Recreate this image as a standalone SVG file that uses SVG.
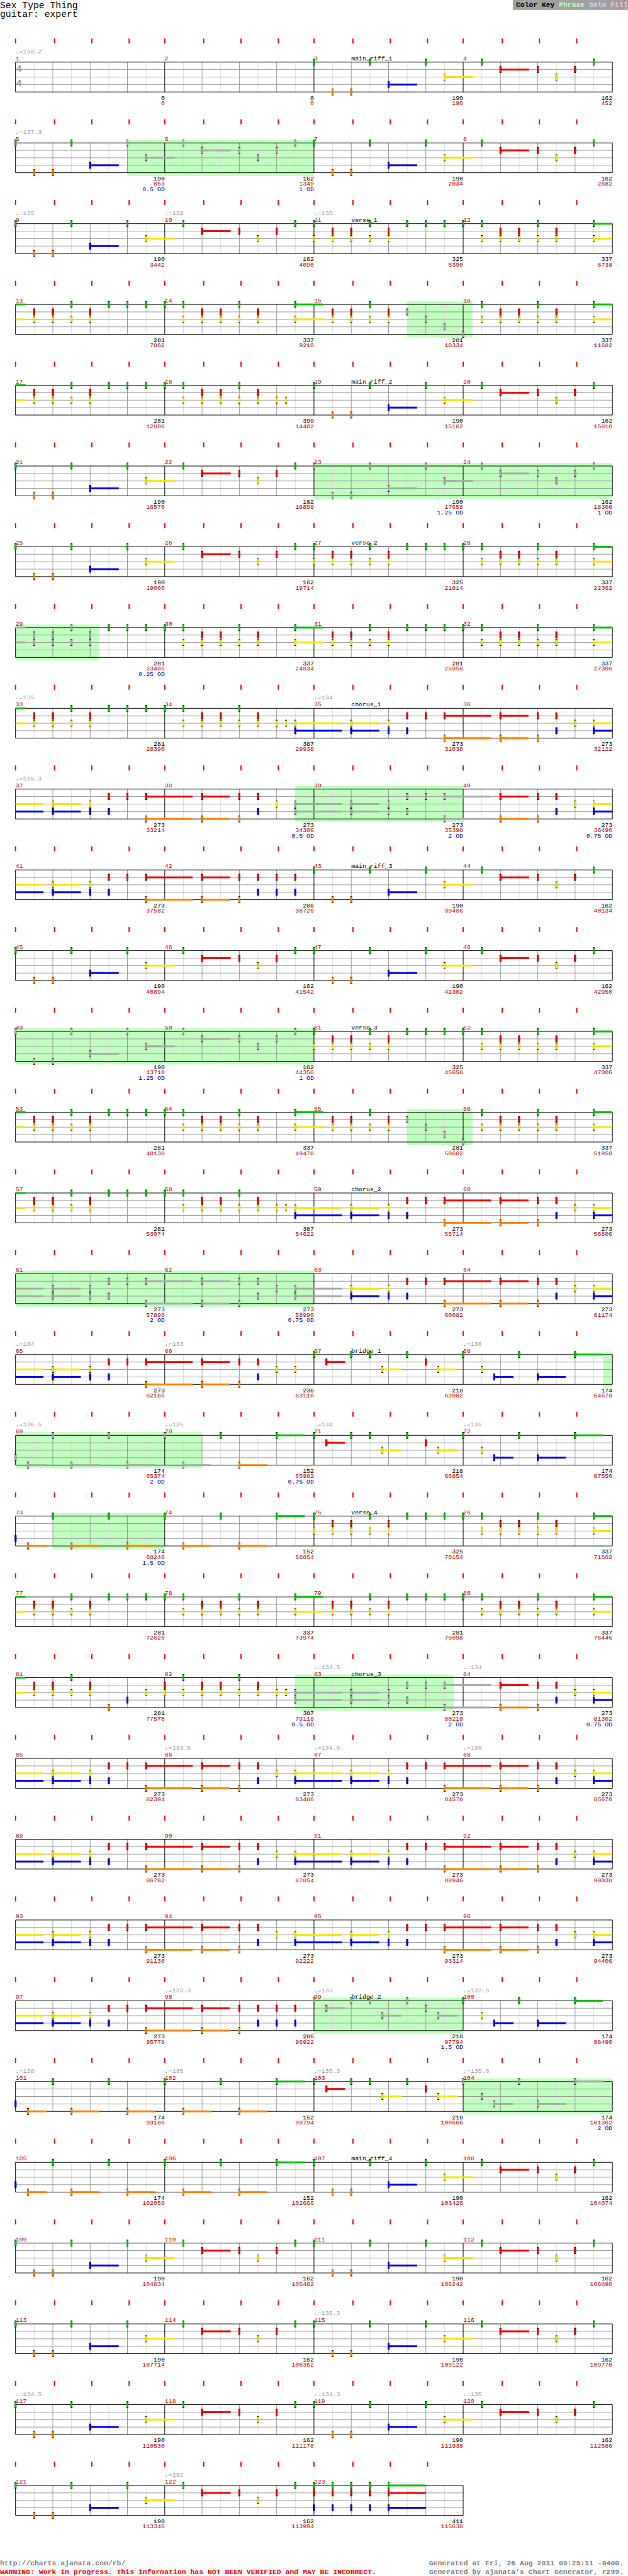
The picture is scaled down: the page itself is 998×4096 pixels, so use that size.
<svg xmlns="http://www.w3.org/2000/svg" width="998" height="4096" viewBox="0 0 998 4096">
<style>
text{font-family:"Liberation Mono","DejaVu Sans Mono",monospace;font-size:10px}
.mn{fill:#c00000}.k{text-anchor:end}.c{fill:#c00000;text-anchor:end}.od{fill:#0000c0;text-anchor:end}.tp{fill:#999}
.ts{font-family:"DejaVu Sans Mono",monospace;font-size:15px;font-weight:bold;fill:#999}
.ttl{font-size:14.9px}
.ft{font-size:11.6px;font-weight:bold}
.G{fill:var(--G,#00c000)}.R{fill:var(--R,#f00000)}.Y{fill:var(--Y,#f8e400)}.B{fill:var(--B,#0000f0)}.O{fill:var(--O,#ff8000)}
.sp{--G:#a8a8a8;--R:#a8a8a8;--Y:#a8a8a8;--B:#a8a8a8;--O:#a8a8a8}
.hl{fill:#c0ffc0}
</style>
<defs>
<g id="staff">
<path d="M55 0V48M115 0V48M175 0V48M235 0V48M295 0V48M355 0V48M415 0V48M475 0V48M535 0V48M595 0V48M655 0V48M715 0V48M775 0V48M835 0V48M895 0V48M955 0V48" stroke="#dcdcdc"/>
<path d="M85 0V48M145 0V48M205 0V48M325 0V48M385 0V48M445 0V48M565 0V48M625 0V48M685 0V48M805 0V48M865 0V48M925 0V48M25 12H985M25 24H985M25 36H985" stroke="#999"/>
<path d="M25 0H985V48H25ZM265 0V48M505 0V48M745 0V48" stroke="#000" fill="none"/>
</g>
<g id="staff3">
<path d="M55 0V48M115 0V48M175 0V48M235 0V48M295 0V48M355 0V48M415 0V48M475 0V48M535 0V48M595 0V48M655 0V48M715 0V48" stroke="#dcdcdc"/>
<path d="M85 0V48M145 0V48M205 0V48M325 0V48M385 0V48M445 0V48M565 0V48M625 0V48M685 0V48M25 12H745M25 24H745M25 36H745" stroke="#999"/>
<path d="M25 0H745V48H25ZM265 0V48M505 0V48" stroke="#000" fill="none"/>
</g>
<g id="tk3" fill="#f00"><rect x="24" y="-38" width="2" height="8"/><rect x="86.7" y="-38" width="2" height="8"/><rect x="146.7" y="-38" width="2" height="8"/><rect x="206.7" y="-38" width="2" height="8"/><rect x="264" y="-38" width="2" height="8"/><rect x="326.7" y="-38" width="2" height="8"/><rect x="386.7" y="-38" width="2" height="8"/><rect x="446.7" y="-38" width="2" height="8"/><rect x="504" y="-38" width="2" height="8"/><rect x="566.7" y="-38" width="2" height="8"/><rect x="626.7" y="-38" width="2" height="8"/><rect x="686.7" y="-38" width="2" height="8"/></g>
<g id="tk" fill="#f00"><use href="#tk3"/><rect x="744" y="-38" width="2" height="8"/><rect x="806.7" y="-38" width="2" height="8"/><rect x="866.7" y="-38" width="2" height="8"/><rect x="926.7" y="-38" width="2" height="8"/></g>
<g id="nG"><rect x="-1.5" y="-5.5" width="3" height="11"/><rect class="G" x="-1.5" y="-4.5" width="3" height="9"/></g>
<g id="nR"><rect x="-1.5" y="6.5" width="3" height="11"/><rect class="R" x="-1.5" y="7.5" width="3" height="9"/></g>
<g id="nY"><rect x="-1.5" y="18.5" width="3" height="11"/><rect class="Y" x="-1.5" y="19.5" width="3" height="9"/></g>
<g id="nB"><rect x="-1.5" y="30.5" width="3" height="11"/><rect class="B" x="-1.5" y="31.5" width="3" height="9"/></g>
<g id="nO"><rect x="-1.5" y="42.5" width="3" height="11"/><rect class="O" x="-1.5" y="43.5" width="3" height="9"/></g>
<g id="RY"><use href="#nR"/><use href="#nY"/></g>
<g id="GY"><use href="#nG"/><use href="#nY"/></g>
<g id="YB"><use href="#nY"/><use href="#nB"/></g>
<g id="RB"><use href="#nR"/><use href="#nB"/></g>
<g id="RO"><use href="#nR"/><use href="#nO"/></g>
<g id="GRB"><use href="#nG"/><use href="#nR"/><use href="#nB"/></g>
<g id="GYm"><rect class="G" y="-1.5" width="45" height="3"/><rect class="Y" y="22.5" width="45" height="3"/><use href="#GY"/></g>
<g id="GYe"><rect class="G" y="-1.5" width="30" height="3"/><rect class="Y" y="22.5" width="30" height="3"/><use href="#GY"/></g>
<g id="cGY"><rect class="G" y="-1.5" width="16" height="3"/><rect class="Y" y="22.5" width="16" height="3"/></g>
<g id="YBm"><rect class="Y" y="22.5" width="75" height="3"/><rect class="B" y="34.5" width="75" height="3"/><use href="#YB"/></g>
<g id="YBe"><rect class="Y" y="22.5" width="30" height="3"/><rect class="B" y="34.5" width="30" height="3"/><use href="#YB"/></g>
<g id="cYB"><rect class="Y" y="22.5" width="45" height="3"/><rect class="B" y="34.5" width="45" height="3"/></g>
<g id="MAa"><rect class="B" x="120" y="34.5" width="46" height="3"/><use href="#nG"/><use href="#nO" x="30"/><use href="#nO" x="60"/><use href="#nG" x="90"/><use href="#nB" x="120"/></g>
<g id="MAb"><rect class="Y" x="210" y="22.5" width="46" height="3"/><use href="#nG" x="180"/><use href="#nY" x="210"/></g>
<g id="MA"><use href="#MAa"/><use href="#MAb"/></g>
<g id="MB"><rect class="R" x="60" y="10.5" width="46" height="3"/><use href="#nG" x="30"/><use href="#nR" x="60"/><use href="#nR" x="120"/><use href="#nY" x="150"/><use href="#nR" x="180"/><use href="#nG" x="210"/></g>
<g id="VAh"><use href="#RY" x="30"/><use href="#RY" x="60"/><use href="#GY" x="90"/><use href="#RY" x="120"/></g>
<g id="VA"><use href="#VAh"/><use href="#nG" x="150"/><use href="#nG" x="180"/><use href="#nG" x="210"/></g>
<g id="VBh"><use href="#GY" x="30"/><use href="#RY" x="60"/><use href="#RY" x="90"/><use href="#GY" x="120"/><use href="#RY" x="150"/></g>
<g id="VBm"><use href="#nG"/><use href="#VBh"/><use href="#GYm" x="210"/></g>
<g id="VBe"><use href="#nG"/><use href="#VBh"/><use href="#GYe" x="210"/></g>
<g id="VBp"><use href="#nG"/><use href="#VBh"/><use href="#nY" x="180"/><use href="#nY" x="195"/></g>
<g id="CA"><rect class="Y" x="60" y="22.5" width="45" height="3"/><rect class="B" x="60" y="34.5" width="45" height="3"/><rect class="R" x="210" y="10.5" width="75" height="3"/><rect class="O" x="210" y="46.5" width="75" height="3"/><use href="#YB" x="60"/><use href="#YB" x="120"/><use href="#RB" x="150"/><use href="#nR" x="180"/><use href="#RO" x="210"/></g>
<g id="CBc"><rect class="R" x="60" y="10.5" width="45" height="3"/><rect class="O" x="60" y="46.5" width="45" height="3"/><use href="#RO" x="60"/><use href="#RO" x="120"/><use href="#RB" x="150"/></g>
<g id="CBh"><use href="#CBc"/><use href="#nY" x="180"/></g>
<g id="BA"><rect class="R" x="20" y="10.5" width="30" height="3"/><rect class="Y" x="110" y="22.5" width="31" height="3"/><rect class="Y" x="200" y="22.5" width="31" height="3"/><use href="#nG"/><use href="#nR" x="20"/><use href="#nG" x="60"/><use href="#nG" x="90"/><use href="#nY" x="110"/><use href="#nG" x="150"/><use href="#nR" x="180"/><use href="#nY" x="200"/></g>
<g id="BB"><rect class="B" x="50" y="34.5" width="31" height="3"/><rect class="B" x="120" y="34.5" width="45" height="3"/><rect class="G" x="180" y="-1.5" width="45" height="3"/><use href="#nG"/><use href="#nY" x="30"/><use href="#nB" x="50"/><use href="#nG" x="90"/><use href="#nB" x="120"/><use href="#nG" x="180"/></g>
<g id="BC"><rect class="O" x="20" y="46.5" width="30" height="3"/><rect class="O" x="90" y="46.5" width="45" height="3"/><rect class="O" x="180" y="46.5" width="45" height="3"/><use href="#nB"/><use href="#nO" x="20"/><use href="#nG" x="60"/><use href="#nO" x="90"/><use href="#nG" x="150"/><use href="#nO" x="180"/></g>
<g id="BDa"><rect class="O" x="30" y="46.5" width="45" height="3"/><use href="#nG"/><use href="#nO" x="30"/></g>
<g id="BDb"><rect class="O" x="120" y="46.5" width="45" height="3"/><rect class="G" x="180" y="-1.5" width="45" height="3"/><use href="#nG" x="90"/><use href="#nO" x="120"/><use href="#nG" x="180"/></g>
<g id="BD"><use href="#BDa"/><use href="#BDb"/></g>
<g id="END"><rect class="G" x="120" y="-1.5" width="60" height="3"/><rect class="R" x="120" y="10.5" width="60" height="3"/><rect class="B" x="120" y="34.5" width="60" height="3"/><use href="#GRB"/><use href="#GRB" x="30"/><use href="#GRB" x="60"/><use href="#GRB" x="90"/><use href="#GRB" x="120"/></g>
</defs>
<g transform="scale(0.988)">
<rect width="1010" height="4145" fill="#fff"/>
<g id="header">
<text class="ttl" x="0" y="13">Sex Type Thing</text>
<text class="ttl" x="0" y="27">guitar: expert</text>
<rect x="825" y="0" width="185" height="16" fill="#a0a0a0"/>
<text x="830" y="11" style="font-size:11.5px;font-weight:bold">Color Key <tspan fill="#c0ffc0">Phrase</tspan> <tspan fill="#d4d4ff">Solo</tspan> <tspan fill="#ffc4c4">Fill</tspan></text>
</g>
<g id="row1" transform="translate(0,100)">
<use href="#staff"/><use href="#tk"/>
<text class="ts" x="26" y="15">4</text><text class="ts" x="26" y="39">4</text>
<text class="tp" x="25" y="-14">♩=138.2</text>
<text class="mn" y="-3"><tspan x="25">1</tspan><tspan x="265">2</tspan><tspan x="505">3</tspan><tspan x="745">4</tspan></text>
<text x="565" y="-3">main_riff_1</text>
<use href="#MA" x="505"/><use href="#MB" x="745"/>
<text class="k" y="60.5"><tspan x="265">0</tspan><tspan x="505">0</tspan><tspan x="745">190</tspan><tspan x="985">162</tspan></text>
<text class="c" y="69"><tspan x="265">0</tspan><tspan x="505">0</tspan><tspan x="745">190</tspan><tspan x="985">452</tspan></text>
</g>
<g id="row2" transform="translate(0,230)">
<rect class="hl" x="205" y="-5" width="300" height="58"/>
<use href="#staff"/><use href="#tk"/>
<text class="tp" x="25" y="-14">♩=137.3</text>
<text class="mn" y="-3"><tspan x="25">5</tspan><tspan x="265">6</tspan><tspan x="505">7</tspan><tspan x="745">8</tspan></text>
<use href="#MAa" x="25"/><use class="sp" href="#MAb" x="25"/><use class="sp" href="#MB" x="265"/><use href="#MA" x="505"/><use href="#MB" x="745"/>
<text class="k" y="60.5"><tspan x="265">190</tspan><tspan x="505">162</tspan><tspan x="745">190</tspan><tspan x="985">162</tspan></text>
<text class="c" y="69"><tspan x="265">863</tspan><tspan x="505">1349</tspan><tspan x="745">2034</tspan><tspan x="985">2682</tspan></text>
<text class="od" y="78"><tspan x="265">0.5 OD</tspan><tspan x="505">1 OD</tspan></text>
</g>
<g id="row3" transform="translate(0,360)">
<use href="#staff"/><use href="#tk"/>
<text class="tp" y="-14"><tspan x="25">♩=135</tspan><tspan x="265">♩=132</tspan><tspan x="505">♩=135</tspan></text>
<text class="mn" y="-3"><tspan x="25">9</tspan><tspan x="265">10</tspan><tspan x="505">11</tspan><tspan x="745">12</tspan></text>
<text x="565" y="-3">verse_1</text>
<use href="#MA" x="25"/><use href="#MB" x="265"/><use href="#GY" x="505"/><use href="#VA" x="505"/><use href="#VBe" x="745"/>
<text class="k" y="60.5"><tspan x="265">190</tspan><tspan x="505">162</tspan><tspan x="745">325</tspan><tspan x="985">337</tspan></text>
<text class="c" y="69"><tspan x="265">3442</tspan><tspan x="505">4090</tspan><tspan x="745">5390</tspan><tspan x="985">6738</tspan></text>
</g>
<g id="row4" transform="translate(0,490)">
<rect class="hl" x="655" y="-5" width="105" height="58"/>
<use href="#staff"/><use href="#tk"/>
<text class="mn" y="-3"><tspan x="25">13</tspan><tspan x="265">14</tspan><tspan x="505">15</tspan><tspan x="745">16</tspan></text>
<use href="#cGY" x="25"/><use href="#VA" x="25"/><use href="#VBm" x="265"/><use href="#VAh" x="505"/>
<g class="sp"><use href="#nR" x="655"/><use href="#nY" x="685"/><use href="#nB" x="715"/><use href="#nO" x="745"/></g>
<use href="#VBh" x="745"/><use href="#GYe" x="955"/>
<text class="k" y="60.5"><tspan x="265">281</tspan><tspan x="505">337</tspan><tspan x="745">281</tspan><tspan x="985">337</tspan></text>
<text class="c" y="69"><tspan x="265">7862</tspan><tspan x="505">9210</tspan><tspan x="745">10334</tspan><tspan x="985">11682</tspan></text>
</g>
<g id="row5" transform="translate(0,620)">
<use href="#staff"/><use href="#tk"/>
<text class="mn" y="-3"><tspan x="25">17</tspan><tspan x="265">18</tspan><tspan x="505">19</tspan><tspan x="745">20</tspan></text>
<text x="565" y="-3">main_riff_2</text>
<use href="#cGY" x="25"/><use href="#VA" x="25"/><use href="#VBp" x="265"/><use href="#MA" x="505"/><use href="#MB" x="745"/>
<text class="k" y="60.5"><tspan x="265">281</tspan><tspan x="505">399</tspan><tspan x="745">190</tspan><tspan x="985">162</tspan></text>
<text class="c" y="69"><tspan x="265">12806</tspan><tspan x="505">14402</tspan><tspan x="745">15162</tspan><tspan x="985">15810</tspan></text>
</g>
<g id="row6" transform="translate(0,750)">
<rect class="hl" x="505" y="-5" width="480" height="58"/>
<use href="#staff"/><use href="#tk"/>
<text class="mn" y="-3"><tspan x="25">21</tspan><tspan x="265">22</tspan><tspan x="505">23</tspan><tspan x="745">24</tspan></text>
<use href="#MA" x="25"/><use href="#MB" x="265"/><use class="sp" href="#MA" x="505"/><use class="sp" href="#MB" x="745"/>
<text class="k" y="60.5"><tspan x="265">190</tspan><tspan x="505">162</tspan><tspan x="745">190</tspan><tspan x="985">162</tspan></text>
<text class="c" y="69"><tspan x="265">16570</tspan><tspan x="505">16898</tspan><tspan x="745">17658</tspan><tspan x="985">18306</tspan></text>
<text class="od" y="78"><tspan x="745">1.25 OD</tspan><tspan x="985">1 OD</tspan></text>
</g>
<g id="row7" transform="translate(0,880)">
<use href="#staff"/><use href="#tk"/>
<text class="mn" y="-3"><tspan x="25">25</tspan><tspan x="265">26</tspan><tspan x="505">27</tspan><tspan x="745">28</tspan></text>
<text x="565" y="-3">verse_2</text>
<use href="#MA" x="25"/><use href="#MB" x="265"/><use href="#GY" x="505"/><use href="#VA" x="505"/><use href="#VBe" x="745"/>
<text class="k" y="60.5"><tspan x="265">190</tspan><tspan x="505">162</tspan><tspan x="745">325</tspan><tspan x="985">337</tspan></text>
<text class="c" y="69"><tspan x="265">19066</tspan><tspan x="505">19714</tspan><tspan x="745">21014</tspan><tspan x="985">22362</tspan></text>
</g>
<g id="row8" transform="translate(0,1010)">
<rect class="hl" x="25" y="-5" width="135" height="58"/>
<use href="#staff"/><use href="#tk"/>
<text class="mn" y="-3"><tspan x="25">29</tspan><tspan x="265">30</tspan><tspan x="505">31</tspan><tspan x="745">32</tspan></text>
<use class="sp" href="#cGY" x="25"/><use class="sp" href="#VAh" x="25"/><use href="#nG" x="175"/><use href="#nG" x="205"/><use href="#nG" x="235"/><use href="#VBm" x="265"/><use href="#VA" x="505"/><use href="#VBe" x="745"/>
<text class="k" y="60.5"><tspan x="265">281</tspan><tspan x="505">337</tspan><tspan x="745">281</tspan><tspan x="985">337</tspan></text>
<text class="c" y="69"><tspan x="265">23486</tspan><tspan x="505">24834</tspan><tspan x="745">25958</tspan><tspan x="985">27306</tspan></text>
<text class="od" x="265" y="78">0.25 OD</text>
</g>
<g id="row9" transform="translate(0,1140)">
<use href="#staff"/><use href="#tk"/>
<text class="tp" y="-14"><tspan x="25">♩=135</tspan><tspan x="505">♩=134</tspan></text>
<text class="mn" y="-3"><tspan x="25">33</tspan><tspan x="265">34</tspan><tspan x="505">35</tspan><tspan x="745">36</tspan></text>
<text x="565" y="-3">chorus_1</text>
<use href="#cGY" x="25"/><use href="#VA" x="25"/><use href="#VBp" x="265"/><use href="#YBm" x="475"/><use href="#CA" x="505"/><use href="#CBh" x="745"/><use href="#YBe" x="955"/>
<text class="k" y="60.5"><tspan x="265">281</tspan><tspan x="505">387</tspan><tspan x="745">273</tspan><tspan x="985">273</tspan></text>
<text class="c" y="69"><tspan x="265">28390</tspan><tspan x="505">29938</tspan><tspan x="745">31030</tspan><tspan x="985">32122</tspan></text>
</g>
<g id="row10" transform="translate(0,1270)">
<rect class="hl" x="475" y="-5" width="270" height="58"/>
<use href="#staff"/><use href="#tk"/>
<text class="tp" x="25" y="-14">♩=135.3</text>
<text class="mn" y="-3"><tspan x="25">37</tspan><tspan x="265">38</tspan><tspan x="505">39</tspan><tspan x="745">40</tspan></text>
<use href="#cYB" x="25"/><use href="#CA" x="25"/><use href="#CBh" x="265"/><use class="sp" href="#YBm" x="475"/><use class="sp" href="#CA" x="505"/><use href="#CBh" x="745"/><use href="#YBe" x="955"/>
<text class="k" y="60.5"><tspan x="265">273</tspan><tspan x="505">273</tspan><tspan x="745">273</tspan><tspan x="985">273</tspan></text>
<text class="c" y="69"><tspan x="265">33214</tspan><tspan x="505">34306</tspan><tspan x="745">35398</tspan><tspan x="985">36490</tspan></text>
<text class="od" y="78"><tspan x="505">0.5 OD</tspan><tspan x="745">2 OD</tspan><tspan x="985">0.75 OD</tspan></text>
</g>
<g id="row11" transform="translate(0,1400)">
<use href="#staff"/><use href="#tk"/>
<text class="mn" y="-3"><tspan x="25">41</tspan><tspan x="265">42</tspan><tspan x="505">43</tspan><tspan x="745">44</tspan></text>
<text x="565" y="-3">main_riff_3</text>
<use href="#cYB" x="25"/><use href="#CA" x="25"/><use href="#CBc" x="265"/><use href="#RB" x="445"/><use href="#RB" x="475"/><use href="#MA" x="505"/><use href="#MB" x="745"/>
<text class="k" y="60.5"><tspan x="265">273</tspan><tspan x="505">286</tspan><tspan x="745">190</tspan><tspan x="985">162</tspan></text>
<text class="c" y="69"><tspan x="265">37582</tspan><tspan x="505">38726</tspan><tspan x="745">39486</tspan><tspan x="985">40134</tspan></text>
</g>
<g id="row12" transform="translate(0,1530)">
<use href="#staff"/><use href="#tk"/>
<text class="mn" y="-3"><tspan x="25">45</tspan><tspan x="265">46</tspan><tspan x="505">47</tspan><tspan x="745">48</tspan></text>
<use href="#MA" x="25"/><use href="#MB" x="265"/><use href="#MA" x="505"/><use href="#MB" x="745"/>
<text class="k" y="60.5"><tspan x="265">190</tspan><tspan x="505">162</tspan><tspan x="745">190</tspan><tspan x="985">162</tspan></text>
<text class="c" y="69"><tspan x="265">40894</tspan><tspan x="505">41542</tspan><tspan x="745">42302</tspan><tspan x="985">42950</tspan></text>
</g>
<g id="row13" transform="translate(0,1660)">
<rect class="hl" x="25" y="-5" width="480" height="58"/>
<use href="#staff"/><use href="#tk"/>
<text class="mn" y="-3"><tspan x="25">49</tspan><tspan x="265">50</tspan><tspan x="505">51</tspan><tspan x="745">52</tspan></text>
<text x="565" y="-3">verse_3</text>
<use class="sp" href="#MA" x="25"/><use class="sp" href="#MB" x="265"/><use href="#GY" x="505"/><use href="#VA" x="505"/><use href="#VBe" x="745"/>
<text class="k" y="60.5"><tspan x="265">190</tspan><tspan x="505">162</tspan><tspan x="745">325</tspan><tspan x="985">337</tspan></text>
<text class="c" y="69"><tspan x="265">43710</tspan><tspan x="505">44358</tspan><tspan x="745">45658</tspan><tspan x="985">47006</tspan></text>
<text class="od" y="78"><tspan x="265">1.25 OD</tspan><tspan x="505">1 OD</tspan></text>
</g>
<g id="row14" transform="translate(0,1790)">
<rect class="hl" x="655" y="-5" width="105" height="58"/>
<use href="#staff"/><use href="#tk"/>
<text class="mn" y="-3"><tspan x="25">53</tspan><tspan x="265">54</tspan><tspan x="505">55</tspan><tspan x="745">56</tspan></text>
<use href="#cGY" x="25"/><use href="#VA" x="25"/><use href="#VBm" x="265"/><use href="#VAh" x="505"/>
<g class="sp"><use href="#nR" x="655"/><use href="#nY" x="685"/><use href="#nB" x="715"/><use href="#nO" x="745"/></g>
<use href="#VBh" x="745"/><use href="#GYe" x="955"/>
<text class="k" y="60.5"><tspan x="265">281</tspan><tspan x="505">337</tspan><tspan x="745">281</tspan><tspan x="985">337</tspan></text>
<text class="c" y="69"><tspan x="265">48130</tspan><tspan x="505">49478</tspan><tspan x="745">50602</tspan><tspan x="985">51950</tspan></text>
</g>
<g id="row15" transform="translate(0,1920)">
<use href="#staff"/><use href="#tk"/>
<text class="mn" y="-3"><tspan x="25">57</tspan><tspan x="265">58</tspan><tspan x="505">59</tspan><tspan x="745">60</tspan></text>
<text x="565" y="-3">chorus_2</text>
<use href="#cGY" x="25"/><use href="#VA" x="25"/><use href="#VBp" x="265"/><use href="#YBm" x="475"/><use href="#CA" x="505"/><use href="#CBh" x="745"/><use href="#YBe" x="955"/>
<text class="k" y="60.5"><tspan x="265">281</tspan><tspan x="505">387</tspan><tspan x="745">273</tspan><tspan x="985">273</tspan></text>
<text class="c" y="69"><tspan x="265">53074</tspan><tspan x="505">54622</tspan><tspan x="745">55714</tspan><tspan x="985">56806</tspan></text>
</g>
<g id="row16" transform="translate(0,2050)">
<rect class="hl" x="25" y="-5" width="480" height="58"/>
<use href="#staff"/><use href="#tk"/>
<text class="mn" y="-3"><tspan x="25">61</tspan><tspan x="265">62</tspan><tspan x="505">63</tspan><tspan x="745">64</tspan></text>
<use class="sp" href="#cYB" x="25"/><use class="sp" href="#CA" x="25"/><use class="sp" href="#CBh" x="265"/><use class="sp" href="#YBm" x="475"/><use href="#CA" x="505"/><use href="#CBh" x="745"/><use href="#YBe" x="955"/>
<text class="k" y="60.5"><tspan x="265">273</tspan><tspan x="505">273</tspan><tspan x="745">273</tspan><tspan x="985">273</tspan></text>
<text class="c" y="69"><tspan x="265">57898</tspan><tspan x="505">58990</tspan><tspan x="745">60082</tspan><tspan x="985">61174</tspan></text>
<text class="od" y="78"><tspan x="265">2 OD</tspan><tspan x="505">0.75 OD</tspan></text>
</g>
<g id="row17" transform="translate(0,2180)">
<rect class="hl" x="970" y="-5" width="15" height="58"/>
<use href="#staff"/><use href="#tk"/>
<text class="tp" y="-14"><tspan x="25">♩=134</tspan><tspan x="265">♩=133</tspan><tspan x="745">♩=136</tspan></text>
<text class="mn" y="-3"><tspan x="25">65</tspan><tspan x="265">66</tspan><tspan x="505">67</tspan><tspan x="745">68</tspan></text>
<text x="565" y="-3">bridge_1</text>
<use href="#cYB" x="25"/><use href="#CA" x="25"/><use href="#CBh" x="265"/><use href="#nY" x="475"/><use href="#BA" x="505"/><use href="#BB" x="745"/>
<text class="k" y="60.5"><tspan x="265">273</tspan><tspan x="505">236</tspan><tspan x="745">218</tspan><tspan x="985">174</tspan></text>
<text class="c" y="69"><tspan x="265">62166</tspan><tspan x="505">63110</tspan><tspan x="745">63982</tspan><tspan x="985">64678</tspan></text>
</g>
<g id="row18" transform="translate(0,2310)">
<rect class="hl" x="25" y="-5" width="300" height="58"/>
<use href="#staff"/><use href="#tk"/>
<text class="tp" y="-14"><tspan x="25">♩=136.5</tspan><tspan x="265">♩=135</tspan><tspan x="505">♩=134</tspan><tspan x="745">♩=135</tspan></text>
<text class="mn" y="-3"><tspan x="25">69</tspan><tspan x="265">70</tspan><tspan x="505">71</tspan><tspan x="745">72</tspan></text>
<use class="sp" href="#BC" x="25"/><use class="sp" href="#BDa" x="265"/><use href="#BDb" x="265"/><use href="#BA" x="505"/><use href="#BB" x="745"/>
<text class="k" y="60.5"><tspan x="265">174</tspan><tspan x="505">152</tspan><tspan x="745">218</tspan><tspan x="985">174</tspan></text>
<text class="c" y="69"><tspan x="265">65374</tspan><tspan x="505">65982</tspan><tspan x="745">66854</tspan><tspan x="985">67550</tspan></text>
<text class="od" y="78"><tspan x="265">2 OD</tspan><tspan x="505">0.75 OD</tspan></text>
</g>
<g id="row19" transform="translate(0,2440)">
<rect class="hl" x="85" y="-5" width="180" height="58"/>
<use href="#staff"/><use href="#tk"/>
<text class="mn" y="-3"><tspan x="25">73</tspan><tspan x="265">74</tspan><tspan x="505">75</tspan><tspan x="745">76</tspan></text>
<text x="565" y="-3">verse_4</text>
<use href="#BC" x="25"/><use href="#BD" x="265"/><use href="#GY" x="505"/><use href="#VA" x="505"/><use href="#VBe" x="745"/>
<text class="k" y="60.5"><tspan x="265">174</tspan><tspan x="505">152</tspan><tspan x="745">325</tspan><tspan x="985">337</tspan></text>
<text class="c" y="69"><tspan x="265">68246</tspan><tspan x="505">68854</tspan><tspan x="745">70154</tspan><tspan x="985">71502</tspan></text>
<text class="od" x="265" y="78">1.5 OD</text>
</g>
<g id="row20" transform="translate(0,2570)">
<use href="#staff"/><use href="#tk"/>
<text class="mn" y="-3"><tspan x="25">77</tspan><tspan x="265">78</tspan><tspan x="505">79</tspan><tspan x="745">80</tspan></text>
<use href="#cGY" x="25"/><use href="#VA" x="25"/><use href="#VBm" x="265"/><use href="#VA" x="505"/><use href="#VBe" x="745"/>
<text class="k" y="60.5"><tspan x="265">281</tspan><tspan x="505">337</tspan><tspan x="745">281</tspan><tspan x="985">337</tspan></text>
<text class="c" y="69"><tspan x="265">72626</tspan><tspan x="505">73974</tspan><tspan x="745">75098</tspan><tspan x="985">76446</tspan></text>
</g>
<g id="row21" transform="translate(0,2700)">
<rect class="hl" x="475" y="-5" width="255" height="58"/>
<use href="#staff"/><use href="#tk"/>
<text class="tp" y="-14"><tspan x="505">♩=134.5</tspan><tspan x="745">♩=134</tspan></text>
<text class="mn" y="-3"><tspan x="25">81</tspan><tspan x="265">82</tspan><tspan x="505">83</tspan><tspan x="745">84</tspan></text>
<text x="565" y="-3">chorus_3</text>
<use href="#cGY" x="25"/><use href="#VAh" x="25"/><use href="#nO" x="175"/><use href="#nB" x="205"/><use href="#nY" x="235"/>
<use href="#RY" x="265"/><use href="#VBh" x="265"/><use href="#nY" x="445"/><use href="#nY" x="460"/><use class="sp" href="#YBm" x="475"/><use class="sp" href="#CA" x="505"/><use href="#CBh" x="745"/><use href="#YBe" x="955"/>
<text class="k" y="60.5"><tspan x="265">281</tspan><tspan x="505">387</tspan><tspan x="745">273</tspan><tspan x="985">273</tspan></text>
<text class="c" y="69"><tspan x="265">77570</tspan><tspan x="505">79118</tspan><tspan x="745">80210</tspan><tspan x="985">81302</tspan></text>
<text class="od" y="78"><tspan x="505">0.5 OD</tspan><tspan x="745">2 OD</tspan><tspan x="985">0.75 OD</tspan></text>
</g>
<g id="row22" transform="translate(0,2830)">
<use href="#staff"/><use href="#tk"/>
<text class="tp" y="-14"><tspan x="265">♩=133.5</tspan><tspan x="505">♩=134.5</tspan><tspan x="745">♩=135</tspan></text>
<text class="mn" y="-3"><tspan x="25">85</tspan><tspan x="265">86</tspan><tspan x="505">87</tspan><tspan x="745">88</tspan></text>
<use href="#cYB" x="25"/><use href="#CA" x="25"/><use href="#CBh" x="265"/><use href="#YBm" x="475"/><use href="#CA" x="505"/><use href="#CBh" x="745"/><use href="#YBe" x="955"/>
<text class="k" y="60.5"><tspan x="265">273</tspan><tspan x="505">273</tspan><tspan x="745">273</tspan><tspan x="985">273</tspan></text>
<text class="c" y="69"><tspan x="265">82394</tspan><tspan x="505">83486</tspan><tspan x="745">84578</tspan><tspan x="985">85670</tspan></text>
</g>
<g id="row23" transform="translate(0,2960)">
<use href="#staff"/><use href="#tk"/>
<text class="mn" y="-3"><tspan x="25">89</tspan><tspan x="265">90</tspan><tspan x="505">91</tspan><tspan x="745">92</tspan></text>
<use href="#cYB" x="25"/><use href="#CA" x="25"/><use href="#CBh" x="265"/><use href="#YBm" x="475"/><use href="#CA" x="505"/><use href="#CBh" x="745"/><use href="#YBe" x="955"/>
<text class="k" y="60.5"><tspan x="265">273</tspan><tspan x="505">273</tspan><tspan x="745">273</tspan><tspan x="985">273</tspan></text>
<text class="c" y="69"><tspan x="265">86762</tspan><tspan x="505">87854</tspan><tspan x="745">88946</tspan><tspan x="985">90038</tspan></text>
</g>
<g id="row24" transform="translate(0,3090)">
<use href="#staff"/><use href="#tk"/>
<text class="mn" y="-3"><tspan x="25">93</tspan><tspan x="265">94</tspan><tspan x="505">95</tspan><tspan x="745">96</tspan></text>
<use href="#cYB" x="25"/><use href="#CA" x="25"/><use href="#CBh" x="265"/><use href="#YBm" x="475"/><use href="#CA" x="505"/><use href="#CBh" x="745"/><use href="#YBe" x="955"/>
<text class="k" y="60.5"><tspan x="265">273</tspan><tspan x="505">273</tspan><tspan x="745">273</tspan><tspan x="985">273</tspan></text>
<text class="c" y="69"><tspan x="265">91130</tspan><tspan x="505">92222</tspan><tspan x="745">93314</tspan><tspan x="985">94406</tspan></text>
</g>
<g id="row25" transform="translate(0,3220)">
<rect class="hl" x="505" y="-5" width="240" height="58"/>
<use href="#staff"/><use href="#tk"/>
<text class="tp" y="-14"><tspan x="265">♩=133.3</tspan><tspan x="505">♩=133</tspan><tspan x="745">♩=137.5</tspan></text>
<text class="mn" y="-3"><tspan x="25">97</tspan><tspan x="265">98</tspan><tspan x="505">99</tspan><tspan x="745">100</tspan></text>
<text x="565" y="-3">bridge_2</text>
<use href="#cYB" x="25"/><use href="#CA" x="25"/><use href="#CBc" x="265"/><use href="#RB" x="445"/><use href="#RB" x="475"/><use class="sp" href="#BA" x="505"/><use href="#BB" x="745"/>
<text class="k" y="60.5"><tspan x="265">273</tspan><tspan x="505">286</tspan><tspan x="745">218</tspan><tspan x="985">174</tspan></text>
<text class="c" y="69"><tspan x="265">95778</tspan><tspan x="505">96922</tspan><tspan x="745">97794</tspan><tspan x="985">98490</tspan></text>
<text class="od" x="745" y="78">1.5 OD</text>
</g>
<g id="row26" transform="translate(0,3350)">
<rect class="hl" x="745" y="-5" width="240" height="58"/>
<use href="#staff"/><use href="#tk"/>
<text class="tp" y="-14"><tspan x="25">♩=138</tspan><tspan x="265">♩=135</tspan><tspan x="505">♩=135.3</tspan><tspan x="745">♩=135.8</tspan></text>
<text class="mn" y="-3"><tspan x="25">101</tspan><tspan x="265">102</tspan><tspan x="505">103</tspan><tspan x="745">104</tspan></text>
<use href="#BC" x="25"/><use href="#BD" x="265"/><use href="#BA" x="505"/><use class="sp" href="#BB" x="745"/>
<text class="k" y="60.5"><tspan x="265">174</tspan><tspan x="505">152</tspan><tspan x="745">218</tspan><tspan x="985">174</tspan></text>
<text class="c" y="69"><tspan x="265">99186</tspan><tspan x="505">99794</tspan><tspan x="745">100666</tspan><tspan x="985">101362</tspan></text>
<text class="od" x="985" y="78">2 OD</text>
</g>
<g id="row27" transform="translate(0,3480)">
<use href="#staff"/><use href="#tk"/>
<text class="mn" y="-3"><tspan x="25">105</tspan><tspan x="265">106</tspan><tspan x="505">107</tspan><tspan x="745">108</tspan></text>
<text x="565" y="-3">main_riff_4</text>
<use href="#BC" x="25"/><use href="#BD" x="265"/><use href="#MA" x="505"/><use href="#MB" x="745"/>
<text class="k" y="60.5"><tspan x="265">174</tspan><tspan x="505">152</tspan><tspan x="745">190</tspan><tspan x="985">162</tspan></text>
<text class="c" y="69"><tspan x="265">102058</tspan><tspan x="505">102666</tspan><tspan x="745">103426</tspan><tspan x="985">104074</tspan></text>
</g>
<g id="row28" transform="translate(0,3610)">
<use href="#staff"/><use href="#tk"/>
<text class="mn" y="-3"><tspan x="25">109</tspan><tspan x="265">110</tspan><tspan x="505">111</tspan><tspan x="745">112</tspan></text>
<use href="#MA" x="25"/><use href="#MB" x="265"/><use href="#MA" x="505"/><use href="#MB" x="745"/>
<text class="k" y="60.5"><tspan x="265">190</tspan><tspan x="505">162</tspan><tspan x="745">190</tspan><tspan x="985">162</tspan></text>
<text class="c" y="69"><tspan x="265">104834</tspan><tspan x="505">105482</tspan><tspan x="745">106242</tspan><tspan x="985">106890</tspan></text>
</g>
<g id="row29" transform="translate(0,3740)">
<use href="#staff"/><use href="#tk"/>
<text class="tp" x="505" y="-14">♩=135.3</text>
<text class="mn" y="-3"><tspan x="25">113</tspan><tspan x="265">114</tspan><tspan x="505">115</tspan><tspan x="745">116</tspan></text>
<use href="#MA" x="25"/><use href="#MB" x="265"/><use href="#MA" x="505"/><use href="#MB" x="745"/>
<text class="k" y="60.5"><tspan x="265">190</tspan><tspan x="505">162</tspan><tspan x="745">190</tspan><tspan x="985">162</tspan></text>
<text class="c" y="69"><tspan x="265">107714</tspan><tspan x="505">108362</tspan><tspan x="745">109122</tspan><tspan x="985">109770</tspan></text>
</g>
<g id="row30" transform="translate(0,3870)">
<use href="#staff"/><use href="#tk"/>
<text class="tp" y="-14"><tspan x="25">♩=134.5</tspan><tspan x="505">♩=134.3</tspan><tspan x="745">♩=135</tspan></text>
<text class="mn" y="-3"><tspan x="25">117</tspan><tspan x="265">118</tspan><tspan x="505">119</tspan><tspan x="745">120</tspan></text>
<use href="#MA" x="25"/><use href="#MB" x="265"/><use href="#MA" x="505"/><use href="#MB" x="745"/>
<text class="k" y="60.5"><tspan x="265">190</tspan><tspan x="505">162</tspan><tspan x="745">190</tspan><tspan x="985">162</tspan></text>
<text class="c" y="69"><tspan x="265">110530</tspan><tspan x="505">111178</tspan><tspan x="745">111938</tspan><tspan x="985">112586</tspan></text>
</g>
<g id="row31" transform="translate(0,4000)">
<use href="#staff3"/><use href="#tk3"/>
<text class="tp" x="265" y="-14">♩=132</text>
<text class="mn" y="-3"><tspan x="25">121</tspan><tspan x="265">122</tspan><tspan x="505">123</tspan></text>
<use href="#MA" x="25"/><use href="#MB" x="265"/><use href="#END" x="505"/>
<text class="k" y="60.5"><tspan x="265">190</tspan><tspan x="505">162</tspan><tspan x="745">411</tspan></text>
<text class="c" y="69"><tspan x="265">113346</tspan><tspan x="505">113994</tspan><tspan x="745">115638</tspan></text>
</g>
<g id="footer">
<text class="ft" x="0" y="4129" fill="#808080">http://charts.ajanata.com/rb/</text>
<text class="ft" x="0" y="4143" fill="#ff0000">WARNING: Work in progress. This information has NOT BEEN VERIFIED and MAY BE INCORRECT.</text>
<text class="ft" x="690" y="4129" fill="#808080">Generated at Fri, 26 Aug 2011 09:29:11 -0400.</text>
<text class="ft" x="690" y="4143" fill="#808080">Generated by ajanata’s Chart Generator, r299.</text>
</g>
</g>
</svg>
